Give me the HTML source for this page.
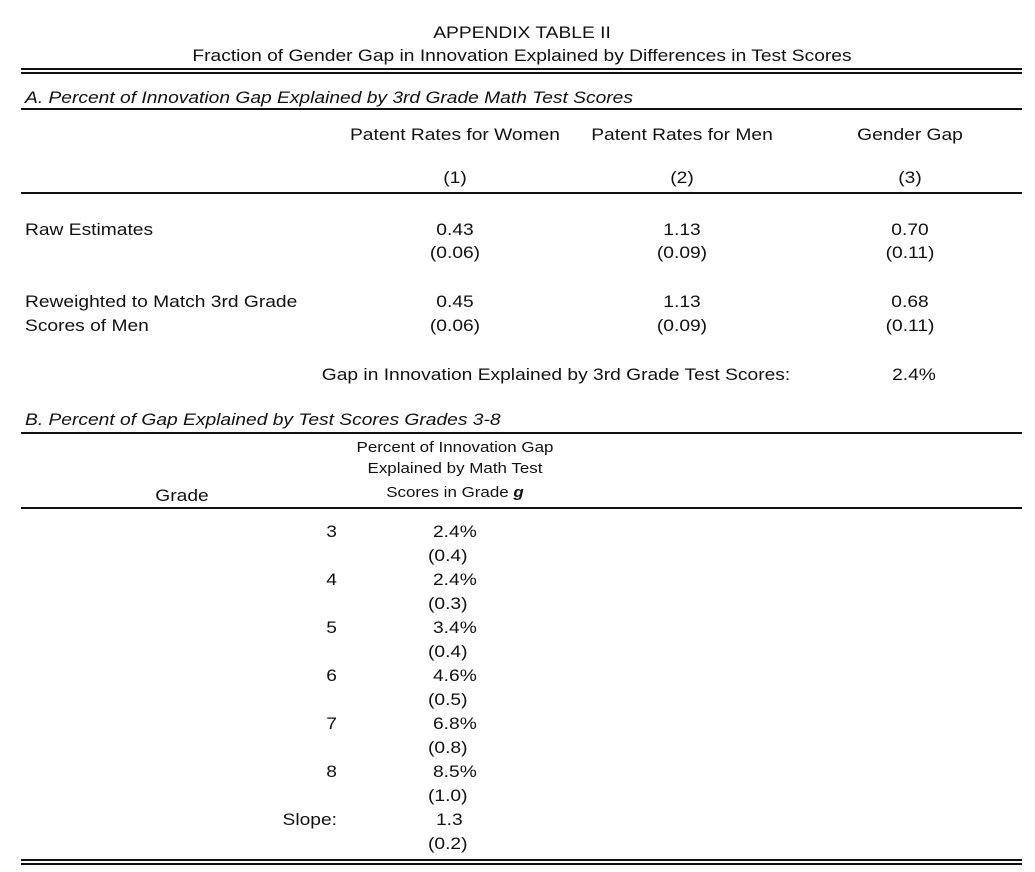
<!DOCTYPE html>
<html><head><meta charset="utf-8">
<style>
body{margin:0;background:#fff;}
#t{position:relative;width:1035px;height:872px;font-family:"Liberation Sans",Arial,sans-serif;color:#111;font-size:17px;}
.x{position:absolute;white-space:nowrap;line-height:20px;transform:scaleX(1.13);transform-origin:left center;}
.c{transform:translateX(-50%) scaleX(1.13);transform-origin:center center;}
.r{transform:translateX(-100%) scaleX(1.13);transform-origin:right center;}
.ln{position:absolute;left:21px;width:1001px;background:#111;}
.s{font-size:15px;}
</style></head><body>
<div id="t">
<div class="x c" style="left:522px;top:23px">APPENDIX TABLE II</div>
<div class="x c" style="left:522px;top:46px">Fraction of Gender Gap in Innovation Explained by Differences in Test Scores</div>
<div class="ln" style="top:68px;height:2px"></div>
<div class="ln" style="top:72px;height:2px"></div>
<div class="x" style="left:25px;top:88px;font-style:italic">A. Percent of Innovation Gap Explained by 3rd Grade Math Test Scores</div>
<div class="ln" style="top:108px;height:2px"></div>
<div class="x c" style="left:455px;top:125px">Patent Rates for Women</div>
<div class="x c" style="left:682px;top:125px">Patent Rates for Men</div>
<div class="x c" style="left:910px;top:125px">Gender Gap</div>
<div class="x c" style="left:455px;top:168px">(1)</div>
<div class="x c" style="left:682px;top:168px">(2)</div>
<div class="x c" style="left:910px;top:168px">(3)</div>
<div class="ln" style="top:192px;height:2px"></div>
<div class="x" style="left:25px;top:220px">Raw Estimates</div>
<div class="x c" style="left:455px;top:220px">0.43</div>
<div class="x c" style="left:455px;top:243px">(0.06)</div>
<div class="x c" style="left:682px;top:220px">1.13</div>
<div class="x c" style="left:682px;top:243px">(0.09)</div>
<div class="x c" style="left:910px;top:220px">0.70</div>
<div class="x c" style="left:910px;top:243px">(0.11)</div>
<div class="x" style="left:25px;top:292px">Reweighted to Match 3rd Grade</div>
<div class="x" style="left:25px;top:316px">Scores of Men</div>
<div class="x c" style="left:455px;top:292px">0.45</div>
<div class="x c" style="left:455px;top:316px">(0.06)</div>
<div class="x c" style="left:682px;top:292px">1.13</div>
<div class="x c" style="left:682px;top:316px">(0.09)</div>
<div class="x c" style="left:910px;top:292px">0.68</div>
<div class="x c" style="left:910px;top:316px">(0.11)</div>
<div class="x c" style="left:556px;top:365px">Gap in Innovation Explained by 3rd Grade Test Scores:</div>
<div class="x c" style="left:914px;top:365px">2.4%</div>
<div class="x" style="left:25px;top:410px;font-style:italic">B. Percent of Gap Explained by Test Scores Grades 3-8</div>
<div class="ln" style="top:432px;height:2px"></div>
<div class="x c s" style="left:455px;top:438px">Percent of Innovation Gap</div>
<div class="x c s" style="left:455px;top:459px">Explained by Math Test</div>
<div class="x c s" style="left:455px;top:483px">Scores in Grade <b><i>g</i></b></div>
<div class="x c" style="left:182px;top:486px">Grade</div>
<div class="ln" style="top:507px;height:2px"></div>
<div class="ln" style="top:859px;height:2px"></div>
<div class="ln" style="top:863px;height:2px"></div>
</div>
<script>
const grades=["3","4","5","6","7","8","Slope:"];
const pcts=["2.4%","2.4%","3.4%","4.6%","6.8%","8.5%","1.3"];
const ses=["(0.4)","(0.3)","(0.4)","(0.5)","(0.8)","(1.0)","(0.2)"];
const T=document.getElementById('t');
function mk(txt,cls,left,top){const d=document.createElement('div');d.className='x '+cls;d.style.left=left+'px';d.style.top=top+'px';d.textContent=txt;T.appendChild(d);return d;}
grades.forEach((g,i)=>{
  const y=522+i*48;
  const a=mk(g,'r',337,y);
  
  
  const b=mk(pcts[i],'',i==6?436:433,y);
  
  
  const c=mk(ses[i],'',428,y+24);
  
  
});
</script>
</body></html>
